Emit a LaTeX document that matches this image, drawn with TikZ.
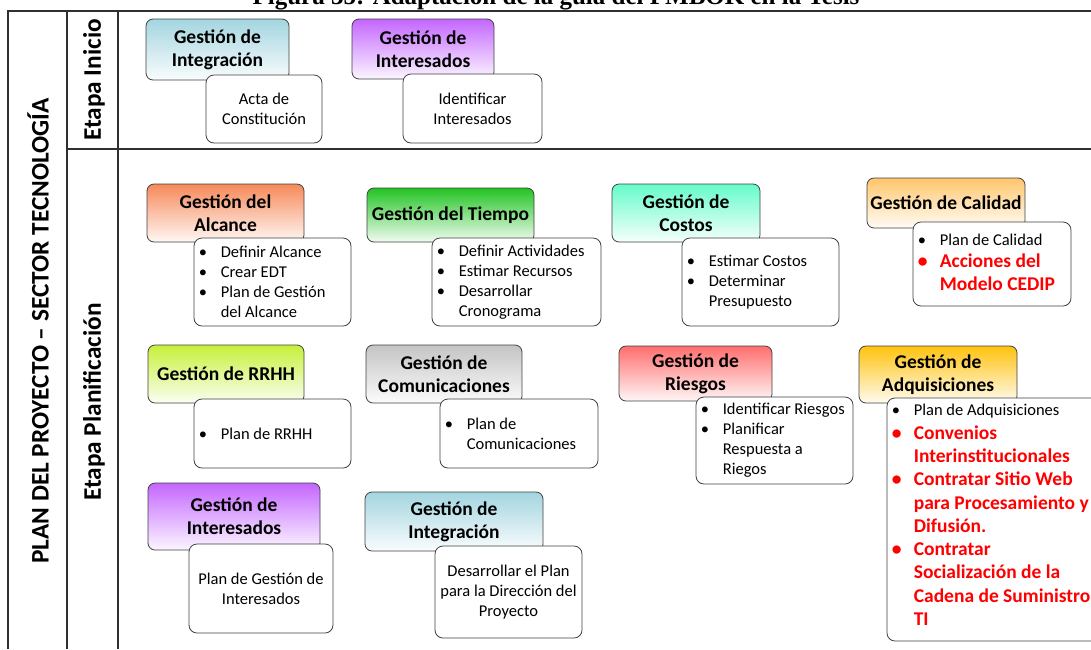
\documentclass[tikz,border=0pt]{standalone}
\usepackage{fontspec}
\setmainfont{Carlito}
\newfontfamily\titlefont{Liberation Serif}
\setlength\parindent{0pt}
\definecolor{cInt}{HTML}{A3D5E0}
\definecolor{cInter}{HTML}{C466FF}
\definecolor{cAlc}{HTML}{F6895A}
\definecolor{cTie}{HTML}{22C422}
\definecolor{cCos}{HTML}{66FCCB}
\definecolor{cCal}{HTML}{FFC66C}
\definecolor{cRRHH}{HTML}{C6F03A}
\definecolor{cCom}{HTML}{C4C4C4}
\definecolor{cRie}{HTML}{FF6E6E}
\definecolor{cAdq}{HTML}{FFC20E}
\definecolor{lineC}{HTML}{303030}
\definecolor{redT}{HTML}{FF0000}
\newcommand\bl{\makebox[22pt][l]{•}}
\newcommand\hg{\hspace*{22pt}}
\newcommand\rl[1]{{\fontsize{19.5}{23.4}\selectfont\bfseries\color{redT}#1}}
\tikzset{
  frame/.style={draw=lineC, line width=1.3pt},
  hdr/.style={draw=black!75, rounded corners=7pt, line width=0.8pt, align=center, inner sep=0pt,
    font=\fontsize{19.5}{23}\selectfont\bfseries},
  cbox/.style={draw=black!75, fill=white, rounded corners=8pt, line width=0.8pt, align=center, inner sep=0pt,
    font=\fontsize{16.5}{20}\selectfont},
  ltxt/.style={anchor=west, align=left, inner sep=0pt, font=\fontsize{16.5}{20}\selectfont},
  vlab/.style={rotate=90, inner sep=0pt, font=\fontsize{25.3}{27}\selectfont\bfseries},
}
\newcommand\hd[6]{% name, color, cx, cy, w, h
  \node[hdr, top color=#2, bottom color=#2!6!white, minimum width=#5pt, minimum height=#6pt] (#1) at (#3,#4)}
\begin{document}
\begin{tikzpicture}[x=1pt, y=-1pt]
\useasboundingbox (0,0) rectangle (1091,649);
\clip (0,0) rectangle (1091,649);

% title (cut off at the top)
\node[anchor=base, inner sep=0pt, font=\titlefont\bfseries\fontsize{25}{25}\selectfont] (title) at (556,4.5)
  {Figura 35: Adaptación de la guía del PMBOK en la Tesis};

% frame
\draw[frame] (8,649) -- (8,11) -- (1091,11);
\draw[frame] (67,11) -- (67,649);
\draw[frame] (118,11) -- (118,649);
\draw[frame] (67,149) -- (1091,149);

% side labels
\node[vlab] (plan) at (38,331) {PLAN DEL PROYECTO – SECTOR TECNOLOGÍA};
\node[vlab] (ini) at (94,80) {Etapa Inicio};
\node[vlab] (pla) at (94,402) {Etapa Planificación};

% ---------- Etapa Inicio
\hd{intH1}{cInt}{217.5}{49.5}{143}{61} {Gestión de\\Integración};
\node[cbox, minimum width=116pt, minimum height=68pt] (intB1) at (264,109) {Acta de\\Constitución};
\hd{interH1}{cInter}{423}{49}{142}{60} {Gestión de\\Interesados};
\node[cbox, minimum width=139pt, minimum height=69pt] (interB1) at (472.5,108.5) {Identificar\\Interesados};

% ---------- Planificación row 1
\hd{alcH}{cAlc}{225.5}{213}{157}{58} {Gestión del\\Alcance};
\node[cbox, minimum width=157pt, minimum height=88pt] (alcB) at (272.5,282) {};
\node[ltxt] (alcT) at ([xshift=5pt]alcB.west)
  {\bl Definir Alcance\\\bl Crear EDT\\\bl Plan de Gestión\\\hg del Alcance};

\hd{tieH}{cTie}{450.5}{215}{167}{54} {Gestión del Tiempo};
\node[cbox, minimum width=169pt, minimum height=88pt] (tieB) at (516.5,282) {};
\node[ltxt] (tieT) at ([xshift=5pt]tieB.west)
  {\bl Definir Actividades\\\bl Estimar Recursos\\\bl Desarrollar\\\hg Cronograma};

\hd{cosH}{cCos}{686}{213}{148}{58} {Gestión de\\Costos};
\node[cbox, minimum width=157pt, minimum height=88pt] (cosB) at (760.5,282) {};
\node[ltxt] (cosT) at ([xshift=5pt]cosB.west)
  {\bl Estimar Costos\\\bl Determinar\\\hg Presupuesto};

\hd{calH}{cCal}{946}{203}{158}{50} {Gestión de Calidad};
\node[cbox, minimum width=158pt, minimum height=84pt] (calB) at (992,264) {};
\node[ltxt] (calT) at ([xshift=5pt,yshift=1.5pt]calB.west)
  {\bl Plan de Calidad\\[2pt]\rl{\bl Acciones del}\\[3pt]\rl{\hg Modelo CEDIP}};

% ---------- Planificación row 2
\hd{rrhH}{cRRHH}{226}{374}{156}{58} {Gestión de RRHH};
\node[cbox, minimum width=157pt, minimum height=69pt] (rrhB) at (272.5,433.5) {};
\node[ltxt] (rrhT) at ([xshift=5pt]rrhB.west) {\bl Plan de RRHH};

\hd{comH}{cCom}{444}{374}{156}{58} {Gestión de\\Comunicaciones};
\node[cbox, minimum width=158pt, minimum height=69pt] (comB) at (519,433.5) {};
\node[ltxt] (comT) at ([xshift=5pt]comB.west) {\bl Plan de\\\hg Comunicaciones};

\hd{rieH}{cRie}{695.5}{373.5}{153}{55} {Gestión de\\Riesgos};
\node[cbox, minimum width=157pt, minimum height=87pt] (rieB) at (774.5,440.5) {};
\node[ltxt] (rieT) at ([xshift=5pt]rieB.west)
  {\bl Identificar Riesgos\\\bl Planificar\\\hg Respuesta a\\\hg Riegos};

\hd{adqH}{cAdq}{938}{374.5}{158}{57} {Gestión de\\Adquisiciones};
\node[cbox, minimum width=223pt, minimum height=243pt] (adqB) at (998.5,519.5) {};
\node[ltxt] (adqT) at ([xshift=5pt,yshift=4.5pt]adqB.west)
  {\bl Plan de Adquisiciones\\[3.3pt]\rl{\bl Convenios}\\[3.3pt]\rl{\hg Interinstitucionales}\\[3.3pt]
   \rl{\bl Contratar Sitio Web}\\[3.3pt]\rl{\hg para Procesamiento y}\\[3.3pt]\rl{\hg Difusión.}\\[3.3pt]
   \rl{\bl Contratar}\\[3.3pt]\rl{\hg Socialización de la}\\[3.3pt]\rl{\hg Cadena de Suministro}\\[3.3pt]\rl{\hg TI}};

% ---------- Planificación row 3
\hd{interH2}{cInter}{234}{516.5}{172}{67} {Gestión de\\Interesados};
\node[cbox, minimum width=144pt, minimum height=89pt] (interB2) at (261,588.5) {Plan de Gestión de\\Interesados};

\hd{intH2}{cInt}{454}{521.5}{178}{59} {Gestión de\\Integración};
\node[cbox, minimum width=147pt, minimum height=92pt] (intB2) at (508.5,592) {Desarrollar el Plan\\para la Dirección del\\Proyecto};

\end{tikzpicture}
\end{document}
